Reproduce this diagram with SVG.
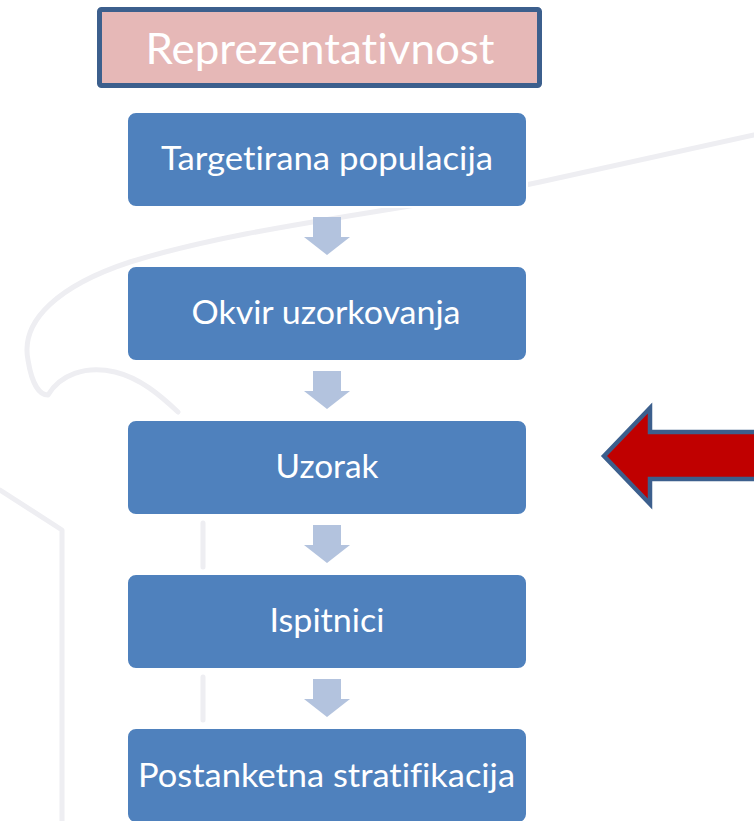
<svg xmlns="http://www.w3.org/2000/svg" width="754" height="821" viewBox="0 0 754 821">
<style>
.wm{fill:none;stroke:#EEEEF2;stroke-width:5;stroke-linecap:round;stroke-linejoin:round}
.box{fill:#4F81BD;stroke:#FFFFFF;stroke-width:2}
text{font-variant-ligatures:none;font-feature-settings:"liga" 0,"clig" 0}
.lbl{font-family:Lato,"Open Sans","Liberation Sans",sans-serif;font-size:32px;fill:#FFFFFF;text-anchor:middle}
.step{fill:#B3C3DE}
</style>
<rect width="754" height="821" fill="#FFFFFF"/>
<g id="watermark">
<path class="wm" d="M754,135 L540,182 C400,212 250,225 130,262 C60,285 20,320 28,360 C32,385 40,395 48,395 C60,375 85,365 115,372 C140,378 160,395 178,412"/>
<path class="wm" d="M0,490 L62,530 L62,821"/>
<path class="wm" d="M203,523 L203,567 M203,677 L203,720"/>
</g>
<g id="title">
<rect x="99.5" y="9.5" width="440" height="76" rx="2" fill="#E6B8B7" stroke="#3C5F8D" stroke-width="5"/>
<text x="320" y="64" font-family="Lato,'Open Sans','Liberation Sans',sans-serif" font-size="43" fill="#FFFFFF" text-anchor="middle" textLength="349" lengthAdjust="spacingAndGlyphs">Reprezentativnost</text>
</g>
<g id="connectors">
<path class="step" d="M313,217 H341 V237 H350 L327,255 L304,237 H313 Z"/>
<path class="step" d="M313,371 H341 V391 H350 L327,409 L304,391 H313 Z"/>
<path class="step" d="M313,525 H341 V545 H350 L327,563 L304,545 H313 Z"/>
<path class="step" d="M313,679 H341 V699 H350 L327,717 L304,699 H313 Z"/>
</g>
<g id="n1">
<rect class="box" x="127" y="112" width="400" height="95" rx="9"/>
<text class="lbl" x="327" y="169.5" textLength="332" lengthAdjust="spacingAndGlyphs">Targetirana populacija</text>
</g>
<g id="n2">
<rect class="box" x="127" y="266" width="400" height="95" rx="9"/>
<text class="lbl" x="326" y="323.5" textLength="269" lengthAdjust="spacingAndGlyphs">Okvir uzorkovanja</text>
</g>
<g id="n3">
<rect class="box" x="127" y="420" width="400" height="95" rx="9"/>
<text class="lbl" x="327" y="477.7" textLength="103" lengthAdjust="spacingAndGlyphs">Uzorak</text>
</g>
<g id="n4">
<rect class="box" x="127" y="574" width="400" height="95" rx="9"/>
<text class="lbl" x="327" y="631.7" textLength="115" lengthAdjust="spacingAndGlyphs">Ispitnici</text>
</g>
<g id="n5">
<rect class="box" x="127" y="728" width="400" height="95" rx="9"/>
<text class="lbl" x="326.5" y="786.7" textLength="377" lengthAdjust="spacingAndGlyphs">Postanketna stratifikacija</text>
</g>
<g id="pointer">
<path d="M604,456 L650,408 L650,432 L760,432 L760,479 L650,479 L650,504 Z" fill="#C00000" stroke="#3C5F8D" stroke-width="4.5" stroke-linejoin="miter"/>
</g>
</svg>
